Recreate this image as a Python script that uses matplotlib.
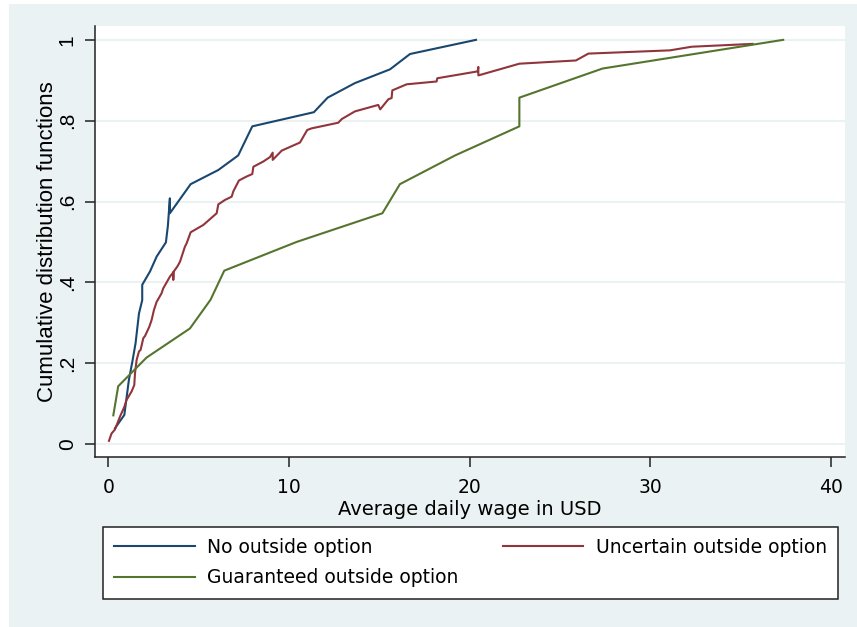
import numpy as np
import matplotlib
matplotlib.use("Agg")
from matplotlib import pyplot as plt
from matplotlib.patches import Rectangle

plt.rcParams['font.family'] = ['Liberation Sans', 'DejaVu Sans']
wide = ['DejaVu Sans']

# empirical CDFs of average daily wage, by treatment group
no_x = [0.37, 0.89, 1.14, 1.35, 1.51, 1.70, 1.88, 1.88, 2.31, 2.68, 3.19, 3.30,
        3.41, 3.41, 4.56, 6.09, 7.19, 7.97, 11.38, 12.14, 13.65, 15.59, 16.70, 20.35]
no_y = [0.039, 0.072, 0.158, 0.208, 0.249, 0.323, 0.356, 0.394, 0.427, 0.464, 0.499, 0.540,
        0.608, 0.571, 0.643, 0.678, 0.714, 0.786, 0.821, 0.857, 0.893, 0.927, 0.965, 1.0]

unc_x = [0.04, 0.18, 0.37, 0.65, 0.89, 1.01, 1.29, 1.44, 1.48, 1.57, 1.70, 1.79,
         1.94, 2.03, 2.27, 2.40, 2.53, 2.68, 2.95, 3.04, 3.41, 3.60, 3.60, 3.61,
         3.82, 3.97, 4.24, 4.34, 4.56, 5.26, 6.00, 6.09, 6.46, 6.83, 6.92, 7.23,
         7.66, 7.97, 8.03, 8.58, 8.95, 9.10, 9.10, 9.60, 10.61, 11.01, 11.25, 12.73,
         12.92, 13.65, 14.94, 15.05, 15.50, 15.68, 15.72, 16.51, 18.17, 18.21, 20.44,
         20.48, 20.48, 22.75, 25.88, 26.57, 31.08, 32.29, 35.66]
unc_y = [0.008, 0.026, 0.036, 0.068, 0.092, 0.109, 0.130, 0.146, 0.175, 0.208, 0.229, 0.233,
         0.262, 0.267, 0.290, 0.307, 0.332, 0.352, 0.373, 0.385, 0.414, 0.425, 0.406, 0.426,
         0.439, 0.451, 0.488, 0.497, 0.524, 0.542, 0.571, 0.593, 0.604, 0.612, 0.625, 0.652,
         0.662, 0.668, 0.686, 0.699, 0.710, 0.721, 0.703, 0.726, 0.746, 0.777, 0.781, 0.795,
         0.804, 0.823, 0.839, 0.828, 0.853, 0.856, 0.875, 0.890, 0.897, 0.905, 0.922,
         0.933, 0.912, 0.941, 0.949, 0.966, 0.974, 0.983, 0.990]

gua_x = [0.28, 0.55, 2.12, 4.52, 5.66, 6.42, 10.42, 15.17, 16.14, 19.19, 22.75, 22.75, 27.35, 37.35]
gua_y = [0.071, 0.143, 0.214, 0.286, 0.357, 0.429, 0.500, 0.571, 0.643, 0.714, 0.786, 0.857, 0.929, 1.0]

x_ticks = [0, 10, 20, 30, 40]
y_ticks = [0, 0.2, 0.4, 0.6, 0.8, 1.0]
y_ticklabels = ['0', '.2', '.4', '.6', '.8', '1']

navy = '#1a476f'
maroon = '#90353b'
green = '#55752f'
bg = '#eaf2f3'

W, H = 857, 627
fig = plt.figure(figsize=(W / 100, H / 100), dpi=100, facecolor='white')
# pale outer background, thin white margin top/left
fig.patches.append(Rectangle((9 / W, 0), 1 - 9 / W, 1 - 4 / H, transform=fig.transFigure,
                             facecolor=bg, edgecolor='none', zorder=-5))

ax = fig.add_axes([94.7 / W, 1 - 457 / H, (845 - 94.7) / W, (457 - 25.7) / H])
ax.set_facecolor('white')
for s in ['top', 'right']:
    ax.spines[s].set_visible(False)
for s in ['left', 'bottom']:
    ax.spines[s].set_color('#222222')
    ax.spines[s].set_linewidth(1.1)

ax.set_xlim(-0.75, 40.77)
ax.set_ylim(-0.032, 1.035)
ax.set_xticks(x_ticks)
ax.set_xticklabels([str(t) for t in x_ticks], family=wide, fontsize=13.5)
ax.set_yticks(y_ticks)
ax.set_yticklabels(y_ticklabels, rotation=90, va='center', fontsize=15)
ax.tick_params(axis='both', length=7, width=1.1, color='#222222')
ax.tick_params(axis='x', pad=8)
ax.tick_params(axis='y', pad=6)
ax.grid(axis='y', color=bg, linewidth=1.5)
ax.set_axisbelow(True)

l1, = ax.plot(no_x, no_y, color=navy, lw=1.5, label='No outside option')
l2, = ax.plot(unc_x, unc_y, color=maroon, lw=1.5, label='Uncertain outside option')
l3, = ax.plot(gua_x, gua_y, color=green, lw=1.5, label='Guaranteed outside option')

ax.set_xlabel('Average daily wage in USD', fontsize=14, family=wide, labelpad=2)
ax.set_ylabel('Cumulative distribution functions', fontsize=16, labelpad=0)

leg = fig.legend([l1, l3, l2], [l1.get_label(), l3.get_label(), l2.get_label()],
                 ncol=2, mode='expand', loc='lower left',
                 bbox_to_anchor=(102.7 / W, 1 - 598.5 / H, (838 - 102.7) / W, (598.5 - 528.6) / H),
                 prop={'family': wide, 'size': 13.5}, frameon=True, fancybox=False,
                 borderpad=0.6, handlelength=4.3, handletextpad=0.65, labelspacing=0.6,
                 borderaxespad=0)
leg.get_frame().set_edgecolor('#222222')
leg.get_frame().set_linewidth(1.1)
leg.get_frame().set_facecolor('white')
leg.get_frame().set_alpha(1)

fig.savefig('out.png', dpi=100, facecolor=fig.get_facecolor())
